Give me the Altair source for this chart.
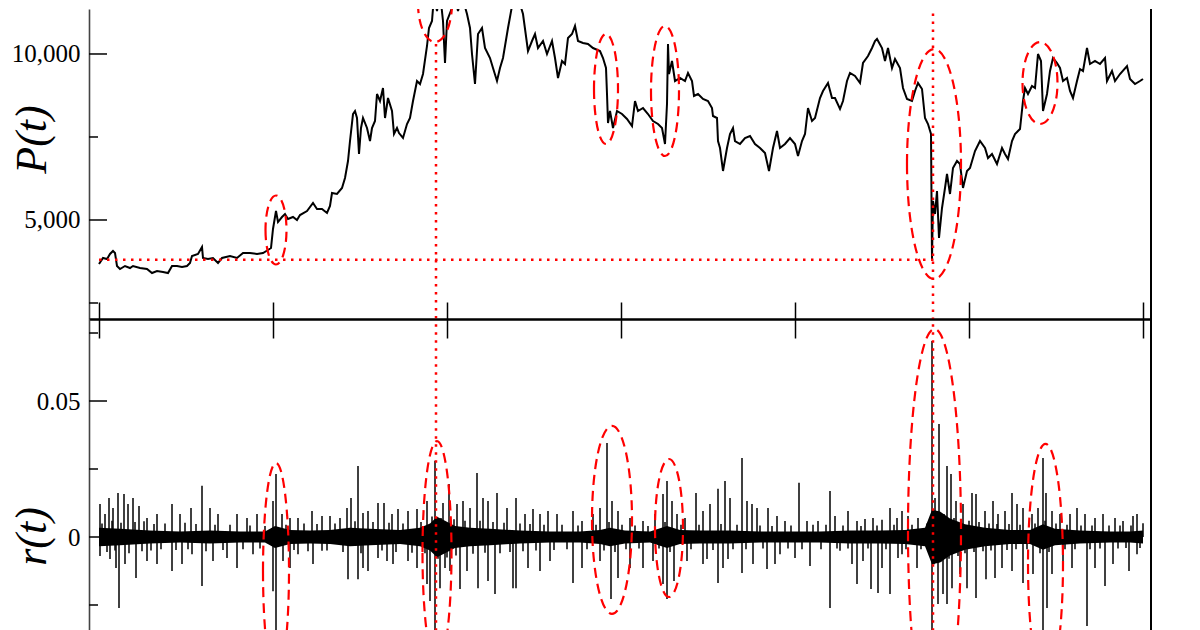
import altair as alt
import pandas as pd

# ---------------- values ----------------
# time index in arbitrary units (x-axis ticks every 174 units, unlabeled)
X_TICKS = [0, 174, 348, 522, 696, 870, 1044]
P_MAJOR = [5000, 10000]
P_MINOR = [2500, 7500]
R_MAJOR = [0.0, 0.05]
R_MINOR = [-0.025, 0.025, 0.075]

# price P(t): (t, P)
PRICE = [
    (0, 3674), (4, 3855), (8, 3825), (11, 3976), (14, 4066), (16, 4006), (18, 3614), (21, 3524),
    (26, 3614), (31, 3554), (34, 3614), (41, 3554), (48, 3524), (53, 3403), (58, 3464), (64, 3433),
    (69, 3403), (73, 3614), (78, 3614), (83, 3584), (88, 3614), (91, 3705), (93, 3915), (99, 3976),
    (103, 4186), (104, 3855), (109, 3825), (114, 3855), (119, 3705), (123, 3855), (131, 3915),
    (138, 3855), (144, 4006), (151, 4006), (158, 3976), (164, 4006), (169, 4096), (172, 4156),
    (174, 4729), (177, 5271), (179, 4939), (183, 5090), (186, 5180), (189, 5030), (194, 5090),
    (198, 5000), (201, 5150), (208, 5271), (214, 5512), (218, 5331), (223, 5331), (228, 5211),
    (231, 5421), (233, 5813), (238, 5783), (243, 5964), (246, 6265), (249, 6777), (251, 7379),
    (254, 8192), (256, 8283), (258, 8072), (260, 6988), (262, 7771), (264, 8072), (268, 7771),
    (271, 7379), (273, 7771), (276, 7982), (278, 8795), (281, 8584), (284, 8976), (286, 8072),
    (289, 8674), (293, 8283), (295, 7590), (298, 7771), (300, 7620), (304, 7470), (308, 7891),
    (311, 8072), (314, 8584), (318, 9186), (321, 9096), (324, 9397), (328, 10241), (330, 10783),
    (333, 10994), (335, 11747), (338, 11295), (341, 11837), (344, 10994), (346, 9729), (348, 10994),
    (353, 11385), (356, 11747), (359, 11295), (363, 11747), (368, 11204), (371, 10783), (373, 10000),
    (376, 9096), (379, 10602), (383, 10783), (386, 10180), (391, 9879), (394, 9578), (398, 9186),
    (401, 9578), (404, 9879), (409, 10783), (413, 11445), (416, 11747), (421, 11506), (424, 11204),
    (429, 10090), (433, 10391), (436, 10602), (439, 10180), (444, 10391), (448, 10000), (453, 10391),
    (456, 9879), (459, 9277), (463, 9789), (466, 9698), (469, 10482), (473, 10602), (476, 10843),
    (479, 10391), (484, 10331), (489, 10301), (494, 10180), (501, 10090), (504, 9879), (507, 9578),
    (508, 8795), (509, 7921), (511, 8283), (514, 7771), (518, 8283), (523, 8192), (528, 8042),
    (533, 7831), (536, 8584), (539, 8283), (544, 8373), (549, 8192), (554, 7982), (559, 7891),
    (563, 7771), (566, 7289), (568, 8494), (569, 10301), (570, 9397), (573, 9789), (576, 9186),
    (581, 9277), (586, 9186), (589, 9427), (593, 9186), (595, 8735), (599, 8795), (604, 8644),
    (609, 8584), (613, 8373), (614, 8132), (618, 8072), (619, 7379), (621, 7168), (624, 6476),
    (628, 7168), (631, 7590), (634, 7771), (636, 7379), (641, 7289), (646, 7470), (651, 7530),
    (656, 7289), (661, 7168), (666, 7018), (670, 6476), (674, 7168), (678, 7680), (681, 7168),
    (686, 7289), (691, 7470), (696, 7289), (699, 6927), (703, 7379), (706, 7590), (709, 8373),
    (713, 7982), (716, 8072), (721, 8674), (724, 8885), (729, 9126), (733, 8674), (736, 8674),
    (741, 8343), (744, 8584), (748, 9186), (751, 9427), (756, 9337), (761, 9126), (764, 9729),
    (769, 9939), (773, 10180), (776, 10391), (778, 10451), (783, 10180), (786, 9789), (789, 10180),
    (793, 9578), (796, 9849), (801, 9578), (804, 8976), (808, 8644), (813, 8584), (816, 8885),
    (819, 9126), (823, 8945), (826, 8072), (829, 7891), (832, 7590), (833, 3825), (834, 5572),
    (836, 5180), (838, 5873), (840, 4458), (843, 5361), (846, 5964), (848, 6385), (851, 5783),
    (854, 6566), (858, 6777), (861, 6686), (864, 5964), (868, 6476), (871, 6566), (876, 7078),
    (881, 7379), (886, 7168), (889, 6867), (893, 6988), (898, 6686), (903, 7168), (906, 6988),
    (909, 6837), (913, 7379), (916, 7590), (921, 7741), (924, 8584), (926, 8976), (929, 8795),
    (933, 9036), (936, 8976), (939, 10000), (942, 9789), (944, 8283), (948, 8795), (951, 9488),
    (954, 9879), (958, 9729), (961, 9578), (964, 9186), (968, 9277), (971, 8885), (974, 8674),
    (978, 9186), (981, 9548), (984, 9488), (988, 10180), (991, 9698), (996, 9789), (1001, 9698),
    (1006, 9879), (1008, 9186), (1013, 9488), (1016, 9186), (1021, 9397), (1028, 9638),
    (1031, 9247), (1036, 9096), (1041, 9186), (1044, 9247),
]

# returns r(t): dense core band half-width (t, half-width)
CORE = [
    (0, 0.0034), (21, 0.0030), (51, 0.0024), (81, 0.0020), (111, 0.0024), (141, 0.0020),
    (166, 0.0020), (176, 0.0040), (191, 0.0026), (211, 0.0024), (231, 0.0026), (251, 0.0034),
    (271, 0.0030), (301, 0.0026), (321, 0.0034), (331, 0.0050), (338, 0.0074), (346, 0.0060),
    (356, 0.0040), (371, 0.0034), (391, 0.0030), (421, 0.0024), (451, 0.0020), (481, 0.0020),
    (501, 0.0026), (511, 0.0034), (526, 0.0024), (551, 0.0020), (568, 0.0040), (581, 0.0026),
    (601, 0.0024), (631, 0.0024), (661, 0.0020), (691, 0.0020), (721, 0.0020), (751, 0.0024),
    (781, 0.0024), (806, 0.0026), (826, 0.0034), (833, 0.0100), (841, 0.0094), (851, 0.0068),
    (866, 0.0047), (886, 0.0034), (911, 0.0026), (931, 0.0026), (944, 0.0047), (956, 0.0030),
    (981, 0.0024), (1011, 0.0020), (1031, 0.0020), (1044, 0.0024),
]

# returns r(t): individual spikes (t, r)
SPIKES = [
    (1, 0.0121), (6, 0.0085), (10, 0.0143), (14, 0.0107), (19, 0.0162), (25, 0.0158), (29, 0.0121),
    (34, 0.0143), (40, 0.0114), (48, 0.0070), (58, 0.0085), (73, 0.0121), (81, 0.0085), (92, 0.0107),
    (103, 0.0188), (111, 0.0107), (119, 0.0085), (138, 0.0085), (148, 0.0070), (158, 0.0085),
    (174, 0.0132), (177, 0.0232), (183, 0.0085), (191, 0.0070), (199, 0.0070), (213, 0.0096),
    (223, 0.0077), (231, 0.0077), (241, 0.0070), (248, 0.0107), (252, 0.0143), (259, 0.0261),
    (264, 0.0088), (269, 0.0096), (279, 0.0125), (285, 0.0125), (293, 0.0085), (299, 0.0103),
    (309, 0.0096), (318, 0.0103), (328, 0.0132), (336, 0.0280), (344, 0.0125), (350, 0.0195),
    (358, 0.0121), (364, 0.0132), (371, 0.0107), (378, 0.0235), (384, 0.0143), (389, 0.0132),
    (398, 0.0162), (408, 0.0107), (417, 0.0143), (426, 0.0085), (434, 0.0103), (441, 0.0085),
    (449, 0.0096), (458, 0.0085), (474, 0.0096), (483, 0.0059), (494, 0.0085), (501, 0.0107),
    (508, 0.0346), (513, 0.0132), (519, 0.0096), (531, 0.0070), (544, 0.0059), (556, 0.0085),
    (564, 0.0158), (568, 0.0206), (573, 0.0132), (578, 0.0085), (586, 0.0070), (597, 0.0162),
    (604, 0.0096), (611, 0.0121), (619, 0.0177), (626, 0.0206), (631, 0.0143), (643, 0.0290),
    (648, 0.0132), (653, 0.0121), (658, 0.0107), (669, 0.0107), (678, 0.0077), (686, 0.0059),
    (700, 0.0199), (708, 0.0059), (719, 0.0059), (731, 0.0169), (736, 0.0077), (749, 0.0096),
    (758, 0.0059), (766, 0.0066), (774, 0.0070), (783, 0.0063), (791, 0.0107), (798, 0.0070),
    (803, 0.0096), (809, 0.0077), (819, 0.0070), (833, 0.0721), (836, 0.0143), (840, 0.0415),
    (848, 0.0261), (852, 0.0232), (857, 0.0132), (864, 0.0121), (873, 0.0162), (877, 0.0158),
    (886, 0.0096), (894, 0.0132), (899, 0.0085), (906, 0.0096), (913, 0.0162), (918, 0.0121),
    (924, 0.0107), (933, 0.0085), (939, 0.0107), (944, 0.0290), (947, 0.0162), (953, 0.0096),
    (961, 0.0085), (971, 0.0085), (978, 0.0107), (986, 0.0085), (996, 0.0070), (1004, 0.0085),
    (1016, 0.0070), (1024, 0.0059), (1034, 0.0077), (1038, 0.0085), (1044, 0.0051),
    (1, -0.0070), (11, -0.0081), (17, -0.0114), (20, -0.0261), (26, -0.0099), (37, -0.0151),
    (48, -0.0088), (58, -0.0099), (73, -0.0125), (83, -0.0099), (93, -0.0063), (103, -0.0180),
    (114, -0.0088), (128, -0.0077), (138, -0.0114), (154, -0.0063), (174, -0.0199), (177, -0.0400),
    (184, -0.0088), (191, -0.0114), (199, -0.0063), (214, -0.0099), (223, -0.0051), (249, -0.0155),
    (259, -0.0155), (264, -0.0114), (269, -0.0125), (279, -0.0077), (288, -0.0088), (294, -0.0099),
    (309, -0.0088), (318, -0.0114), (328, -0.0173), (331, -0.0235), (336, -0.0400), (341, -0.0188),
    (346, -0.0114), (351, -0.0125), (361, -0.0191), (368, -0.0125), (379, -0.0188), (389, -0.0162),
    (396, -0.0210), (414, -0.0188), (417, -0.0188), (429, -0.0114), (441, -0.0125), (451, -0.0088),
    (474, -0.0169), (483, -0.0114), (501, -0.0088), (512, -0.0228), (519, -0.0151), (531, -0.0114),
    (544, -0.0114), (554, -0.0088), (564, -0.0173), (568, -0.0228), (575, -0.0162), (588, -0.0088),
    (604, -0.0099), (608, -0.0081), (619, -0.0169), (624, -0.0114), (629, -0.0081), (643, -0.0132),
    (654, -0.0099), (668, -0.0118), (676, -0.0099), (681, -0.0063), (696, -0.0077), (711, -0.0107),
    (731, -0.0261), (741, -0.0051), (753, -0.0099), (758, -0.0173), (764, -0.0088), (772, -0.0191),
    (779, -0.0206), (783, -0.0114), (791, -0.0210), (799, -0.0077), (803, -0.0063), (818, -0.0114),
    (833, -0.0600), (839, -0.0246), (844, -0.0210), (848, -0.0246), (853, -0.0188), (861, -0.0136),
    (868, -0.0188), (877, -0.0224), (887, -0.0155), (896, -0.0151), (903, -0.0114), (913, -0.0125),
    (924, -0.0169), (934, -0.0136), (944, -0.0400), (948, -0.0261), (953, -0.0136), (964, -0.0088),
    (973, -0.0114), (988, -0.0327), (996, -0.0114), (1006, -0.0180), (1014, -0.0099), (1030, -0.0125),
    (1038, -0.0063),
]

# returns r(t): short hairs along the edges of the dense band (t, r)
HAIRS = [
    (3, 0.0050), (8, -0.0055), (13, 0.0060), (16, -0.0050), (22, 0.0052), (30, -0.0060),
    (36, 0.0055), (43, -0.0052), (45, 0.0058), (52, -0.0050), (55, 0.0048), (62, -0.0045),
    (66, 0.0050), (77, -0.0048), (86, 0.0052), (89, -0.0045), (97, 0.0048), (107, -0.0052),
    (116, 0.0045), (124, -0.0048), (131, 0.0045), (144, -0.0045), (151, 0.0042), (161, -0.0042),
    (166, 0.0040), (187, 0.0045), (195, -0.0048), (205, 0.0050), (209, -0.0052), (218, 0.0048),
    (228, -0.0050), (236, 0.0050), (244, -0.0055), (256, 0.0058), (262, -0.0060), (274, 0.0055),
    (283, -0.0050), (290, 0.0052), (297, -0.0055), (304, 0.0050), (313, -0.0058), (322, 0.0055),
    (326, -0.0060), (333, 0.0075), (339, -0.0080), (342, 0.0070), (348, -0.0075), (355, 0.0065),
    (357, -0.0068), (366, 0.0060), (374, -0.0062), (381, 0.0060), (386, -0.0058), (394, 0.0055),
    (401, -0.0060), (405, 0.0052), (411, -0.0055), (421, 0.0050), (424, -0.0052), (431, 0.0048),
    (437, -0.0050), (445, 0.0045), (455, -0.0048), (463, 0.0045), (468, -0.0045), (479, 0.0042),
    (488, -0.0045), (497, 0.0045), (505, -0.0050), (510, 0.0055), (516, -0.0055), (523, 0.0045),
    (527, -0.0045), (536, 0.0042), (540, -0.0042), (549, 0.0040), (560, -0.0042), (566, 0.0055),
    (571, -0.0055), (582, 0.0045), (592, -0.0045), (600, 0.0045), (614, -0.0048), (622, 0.0048),
    (634, -0.0045), (638, 0.0045), (647, -0.0045), (661, 0.0042), (664, -0.0042), (673, 0.0040),
    (689, -0.0042), (692, 0.0042), (703, -0.0045), (714, 0.0045), (722, -0.0045), (727, 0.0045),
    (738, -0.0042), (744, 0.0042), (749, -0.0042), (762, 0.0040), (769, -0.0042), (778, 0.0042),
    (787, -0.0045), (795, 0.0045), (807, -0.0045), (813, 0.0045), (822, -0.0045), (828, 0.0050),
    (835, -0.0100), (838, 0.0095), (842, -0.0090), (845, 0.0085), (850, -0.0080), (855, 0.0070),
    (859, -0.0070), (862, 0.0065), (866, -0.0060), (870, 0.0060), (875, -0.0055), (880, 0.0055),
    (884, -0.0052), (890, 0.0050), (892, -0.0050), (898, 0.0048), (908, -0.0048), (910, 0.0048),
    (917, -0.0045), (921, 0.0045), (928, -0.0045), (936, 0.0050), (941, -0.0060), (946, 0.0060),
    (950, -0.0055), (957, 0.0050), (966, -0.0045), (968, 0.0045), (976, -0.0045), (982, 0.0042),
    (991, -0.0045), (993, 0.0042), (1001, -0.0042), (1010, 0.0042), (1019, -0.0042), (1021, 0.0042),
    (1027, -0.0040), (1032, 0.0042), (1041, -0.0040),
]

# annotations (data units)
P_LEVEL = 3800            # horizontal dotted line level
P_LEVEL_T = [0, 838]      # its extent in t
EVENT_T = [337, 834]      # vertical dotted lines
EVENT_P_TOP = [10301, 11700]
P_ELLIPSE_CENTERS = [(177, 4699), (336, 11536), (507, 8945), (566, 8885), (835, 6686), (941, 9126)]
R_ELLIPSE_CENTERS = [(177, -0.0125), (338, -0.0059), (513, 0.0063), (570, 0.0033), (835.5, 0.0022), (946.5, -0.0099)]

# ---------------- styles / layout ----------------
P_ELLIPSE_PX = [(10.5, 34.5), (17, 39), (12, 55), (14, 65), (27, 115), (17.5, 41)]
R_ELLIPSE_PX = [(13, 108), (14.5, 112), (20, 94), (14, 69), (26.5, 202), (17.5, 120)]

FONT = "Liberation Serif"
W, H1, H2 = 1062, 310, 312
X_DOM = [-10, 1052]
P_DOM = [2018, 11355]
R_DOM = [-0.03456, 0.08015]
RED = "#ff0000"


def ellipse_path(rx, ry):
    a = rx / ry
    return f"M {-a:.4f} 0 A {a:.4f} 1 0 1 0 {a:.4f} 0 A {a:.4f} 1 0 1 0 {-a:.4f} 0 Z"


price_df = pd.DataFrame(PRICE, columns=["t", "P"])
core_df = pd.DataFrame(CORE, columns=["t", "hw"])
core_df["lo"] = -core_df["hw"]
spike_df = pd.DataFrame(SPIKES + HAIRS, columns=["t", "r"])
spike_df["zero"] = 0.0

hline_df = pd.DataFrame({"t": [P_LEVEL_T[0]], "t1": [P_LEVEL_T[1]], "P": [P_LEVEL]})
vtop_df = pd.DataFrame({"t": EVENT_T, "p0": EVENT_P_TOP, "p1": [P_DOM[0]] * len(EVENT_T)})
vbot_df = pd.DataFrame({"t": EVENT_T, "r0": [0.09] * len(EVENT_T), "r1": [-0.06] * len(EVENT_T)})

pell_df = pd.DataFrame({
    "t": [c[0] for c in P_ELLIPSE_CENTERS],
    "P": [c[1] for c in P_ELLIPSE_CENTERS],
    "path": [ellipse_path(*s) for s in P_ELLIPSE_PX],
    "size": [(2 * s[1]) ** 2 for s in P_ELLIPSE_PX],
})
rell_df = pd.DataFrame({
    "t": [c[0] for c in R_ELLIPSE_CENTERS],
    "r": [c[1] for c in R_ELLIPSE_CENTERS],
    "path": [ellipse_path(*s) for s in R_ELLIPSE_PX],
    "size": [(2 * s[1]) ** 2 for s in R_ELLIPSE_PX],
})

pmaj_df = pd.DataFrame({"v": P_MAJOR})
pmin_df = pd.DataFrame({"v": P_MINOR})
rmaj_df = pd.DataFrame({"v": R_MAJOR})
rmin_df = pd.DataFrame({"v": R_MINOR})

x_scale = alt.Scale(domain=X_DOM, nice=False, zero=False)
p_scale = alt.Scale(domain=P_DOM, nice=False, zero=False)
r_scale = alt.Scale(domain=R_DOM, nice=False, zero=False)


def xaxis(orient, size):
    return alt.Axis(orient=orient, values=X_TICKS, labels=False, ticks=True, tickSize=size,
                    tickColor="black", tickWidth=1.5, domain=True, domainColor="black",
                    domainWidth=2, grid=False, title=None)


def yaxis(values, fmt, title, title_y):
    return alt.Axis(orient="left", values=values, format=fmt, labelFont=FONT, labelFontSize=25,
                    labelColor="black", labelPadding=9, ticks=False, tickSize=0, domain=True,
                    domainColor="#444444", domainWidth=1.6, grid=False, labelFlush=False,
                    labelOverlap=False, title=title, titleFont=FONT, titleFontSize=44,
                    titleFontStyle="italic", titleFontWeight="normal", titleColor="black",
                    titleAngle=270, titleX=-44, titleY=title_y, titleAlign="center",
                    titleBaseline="alphabetic")


XA_TOP = xaxis("bottom", 19)
XA_BOT = xaxis("top", 17)
YA_TOP = yaxis(P_MAJOR, ",d", "P(t)", 130)
YA_BOT = yaxis(R_MAJOR, ".2~f", "r(t)", 217)


def XT(f):
    return alt.X(f"{f}:Q", scale=x_scale, axis=XA_TOP)


def XB(f):
    return alt.X(f"{f}:Q", scale=x_scale, axis=XA_BOT)


def YP(f):
    return alt.Y(f"{f}:Q", scale=p_scale, axis=YA_TOP)


def YR(f):
    return alt.Y(f"{f}:Q", scale=r_scale, axis=YA_BOT)


dotted = dict(color=RED, strokeWidth=2.5, strokeDash=[2.5, 5.5], clip=True)
dashed = dict(color=RED, filled=False, opacity=1, strokeWidth=2.2, strokeDash=[10, 6], clip=True)

# ---------------- top panel: P(t) ----------------
price_line = alt.Chart(price_df).mark_line(color="black", strokeWidth=2.0, clip=True).encode(
    x=XT("t"), y=YP("P"))
p_major = alt.Chart(pmaj_df).mark_rule(color="black", strokeWidth=1.5).encode(
    y=YP("v"), x=alt.value(0), x2=alt.value(18))
p_minor = alt.Chart(pmin_df).mark_rule(color="black", strokeWidth=1.5).encode(
    y=YP("v"), x=alt.value(0), x2=alt.value(9))
right_top = alt.Chart(pmaj_df).mark_rule(color="black", strokeWidth=2).encode(
    x=alt.value(W), y=alt.value(0), y2=alt.value(H1))
hline = alt.Chart(hline_df).mark_rule(**dotted).encode(x=XT("t"), x2="t1", y=YP("P"))
vtop = alt.Chart(vtop_df).mark_rule(**dotted).encode(x=XT("t"), y=YP("p0"), y2="p1")
pell = alt.Chart(pell_df).mark_point(**dashed).encode(
    x=XT("t"), y=YP("P"),
    shape=alt.Shape("path:N", scale=None),
    size=alt.Size("size:Q", scale=None))

top = alt.layer(price_line, p_major, p_minor, right_top, hline, vtop, pell).properties(
    width=W, height=H1)

# ---------------- bottom panel: r(t) ----------------
core = alt.Chart(core_df).mark_area(color="black", clip=True).encode(
    x=XB("t"), y=YR("hw"), y2="lo")
spikes = alt.Chart(spike_df).mark_rule(color="black", strokeWidth=1.5, clip=True).encode(
    x=XB("t"), y=YR("r"), y2="zero")
r_major = alt.Chart(rmaj_df).mark_rule(color="black", strokeWidth=1.5).encode(
    y=YR("v"), x=alt.value(0), x2=alt.value(18))
r_minor = alt.Chart(rmin_df).mark_rule(color="black", strokeWidth=1.5).encode(
    y=YR("v"), x=alt.value(0), x2=alt.value(9))
right_bot = alt.Chart(rmaj_df).mark_rule(color="black", strokeWidth=2).encode(
    x=alt.value(W), y=alt.value(0), y2=alt.value(H2))
vbot = alt.Chart(vbot_df).mark_rule(**dotted).encode(x=XB("t"), y=YR("r0"), y2="r1")
rell = alt.Chart(rell_df).mark_point(**dashed).encode(
    x=XB("t"), y=YR("r"),
    shape=alt.Shape("path:N", scale=None),
    size=alt.Size("size:Q", scale=None))

bottom = alt.layer(core, spikes, r_major, r_minor, right_bot, vbot, rell).properties(
    width=W, height=H2)

chart = alt.vconcat(top, bottom, spacing=0, bounds="flush").properties(
    padding={"left": 2, "top": 0, "right": 0, "bottom": 0},
    background="white",
).configure_view(stroke=None)

chart.save("out.html", embed_options={"renderer": "svg", "actions": False})
